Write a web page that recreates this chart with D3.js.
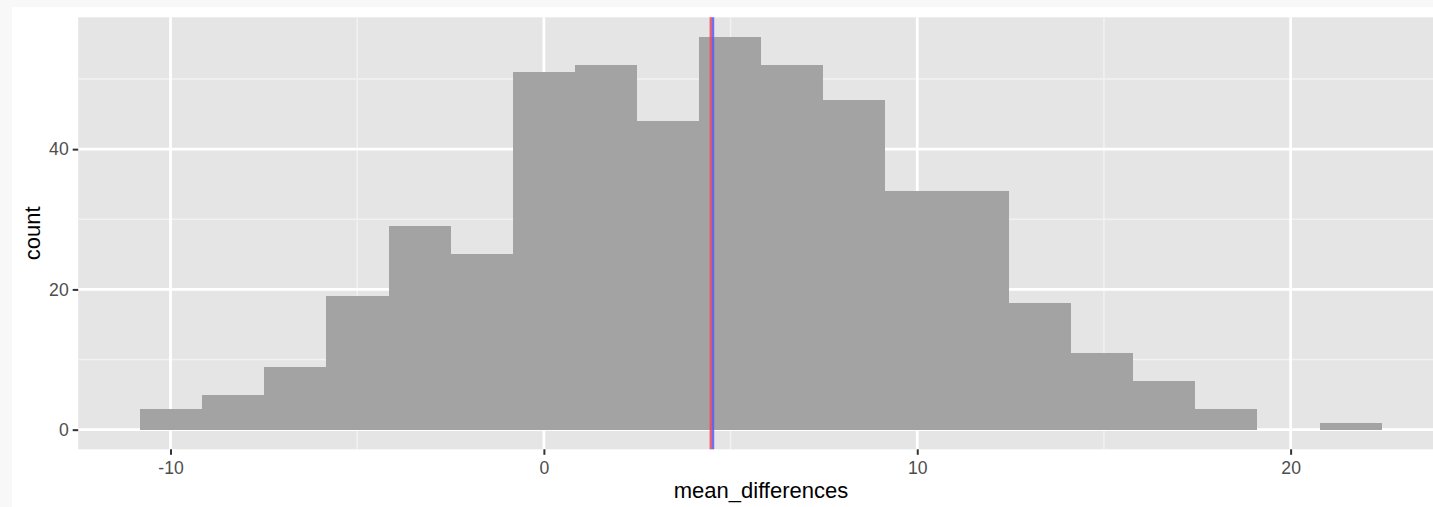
<!DOCTYPE html>
<html>
<head>
<meta charset="utf-8">
<script src="https://cdn.jsdelivr.net/npm/d3@7"></script>
<style>
  body { margin: 0; background: #f8f8f8; }
  svg { display: block; }
</style>
</head>
<body>
<svg id="chart" width="1433" height="507"></svg>
<script>
// histogram bins (20 bins)
const binEdges = [-10.81, -9.15, -7.49, -5.83, -4.16, -2.50, -0.84, 0.82, 2.49, 4.15,
  5.81, 7.47, 9.14, 10.80, 12.46, 14.13, 15.79, 17.45, 19.11, 20.78, 22.44];
const binCounts = [3, 5, 9, 19, 29, 25, 51, 52, 44, 56, 52, 47, 34, 34, 18, 11, 7, 3, 0, 1];
const xTicks = [-10, 0, 10, 20];
const xMinor = [-5, 5, 15];
const yTicks = [0, 20, 40];
const yMinor = [10, 30, 50];
// vertical reference lines (mean / median)
const refLines = [
  { value: 4.47, color: "#ef4a5e" },
  { value: 4.53, color: "#5a5cf0" }
];

const svg = d3.select("#chart");

// white plot background, light strip on top and left
svg.append("rect")
  .attr("x", 12).attr("y", 7)
  .attr("width", 1433).attr("height", 507)
  .attr("fill", "white");

let panelLeft = 78.2, panelRight = 1443.8, panelTop = 17.3, panelBottom = 449.3;

let xExtent = [binEdges[0], binEdges[binEdges.length - 1]];
let xPad = (xExtent[1] - xExtent[0]) * 0.05;
let xScale = d3.scaleLinear()
  .domain([xExtent[0] - xPad, xExtent[1] + xPad])
  .range([panelLeft, panelRight]);

let yMax = d3.max(binCounts);
let yScale = d3.scaleLinear()
  .domain([-yMax * 0.05, yMax * 1.05])
  .range([panelBottom, panelTop]);

const panel = svg.append("g");
panel.append("rect")
  .attr("x", panelLeft).attr("y", panelTop)
  .attr("width", panelRight - panelLeft).attr("height", panelBottom - panelTop)
  .attr("fill", "#e5e5e5");

// minor grid
panel.selectAll(".ymin").data(yMinor).enter().append("line")
  .attr("x1", panelLeft).attr("x2", panelRight)
  .attr("y1", (d) => yScale(d)).attr("y2", (d) => yScale(d))
  .attr("stroke", "#f2f2f2").attr("stroke-width", 1.4);
panel.selectAll(".xmin").data(xMinor).enter().append("line")
  .attr("y1", panelTop).attr("y2", panelBottom)
  .attr("x1", (d) => xScale(d)).attr("x2", (d) => xScale(d))
  .attr("stroke", "#f2f2f2").attr("stroke-width", 1.4);
// major grid
panel.selectAll(".ymaj").data(yTicks).enter().append("line")
  .attr("x1", panelLeft).attr("x2", panelRight)
  .attr("y1", (d) => yScale(d)).attr("y2", (d) => yScale(d))
  .attr("stroke", "white").attr("stroke-width", 2.8);
panel.selectAll(".xmaj").data(xTicks).enter().append("line")
  .attr("y1", panelTop).attr("y2", panelBottom)
  .attr("x1", (d) => xScale(d)).attr("x2", (d) => xScale(d))
  .attr("stroke", "white").attr("stroke-width", 2.8);

// bars
panel.selectAll(".bar").data(binCounts).enter().append("rect")
  .attr("x", (d, i) => xScale(binEdges[i]))
  .attr("width", (d, i) => xScale(binEdges[i + 1]) - xScale(binEdges[i]))
  .attr("y", (d) => yScale(d))
  .attr("height", (d) => yScale(0) - yScale(d))
  .attr("fill", "#a3a3a3")
  .attr("shape-rendering", "crispEdges");

// reference lines
panel.selectAll(".ref").data(refLines).enter().append("line")
  .attr("x1", (d) => xScale(d.value)).attr("x2", (d) => xScale(d.value))
  .attr("y1", panelTop).attr("y2", panelBottom)
  .attr("stroke", (d) => d.color)
  .attr("stroke-opacity", 0.85)
  .attr("stroke-width", 2.4);

// axes (plain hyphen minus like R)
let xAxis = d3.axisBottom(xScale).tickValues(xTicks).tickSize(5.5).tickPadding(4)
  .tickFormat((d) => String(d));
let gx = svg.append("g")
  .attr("transform", `translate(0,${panelBottom})`)
  .call(xAxis);
let yAxis = d3.axisLeft(yScale).tickValues(yTicks).tickSize(5.5).tickPadding(4)
  .tickFormat((d) => String(d));
let gy = svg.append("g")
  .attr("transform", `translate(${panelLeft},0)`)
  .call(yAxis);

[gx, gy].forEach((g) => {
  g.select(".domain").remove();
  g.selectAll(".tick line").attr("stroke", "#333333").attr("stroke-width", 2);
  g.selectAll(".tick text")
    .attr("fill", "#4d4d4d")
    .attr("font-family", "Liberation Sans, Arial, sans-serif")
    .attr("font-size", 17.6);
});
gx.selectAll(".tick text").attr("dy", "0.85em");

svg.append("text")
  .attr("x", (panelLeft + panelRight) / 2).attr("y", 498)
  .attr("text-anchor", "middle")
  .attr("font-family", "Liberation Sans, Arial, sans-serif")
  .attr("font-size", 22)
  .attr("fill", "black")
  .text("mean_differences");

svg.append("text")
  .attr("transform", `translate(40,${(panelTop + panelBottom) / 2}) rotate(-90)`)
  .attr("text-anchor", "middle")
  .attr("font-family", "Liberation Sans, Arial, sans-serif")
  .attr("font-size", 22)
  .attr("fill", "black")
  .text("count");
</script>
</body>
</html>
